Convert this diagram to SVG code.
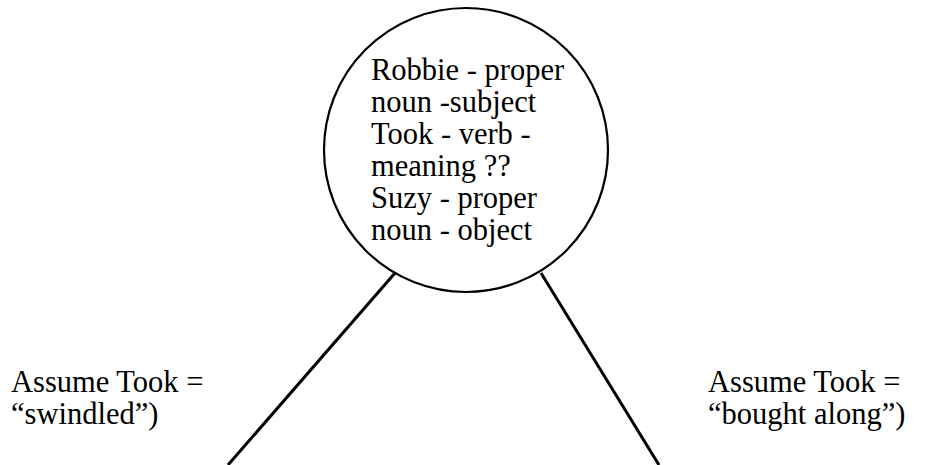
<svg xmlns="http://www.w3.org/2000/svg" width="929" height="465" viewBox="0 0 929 465">
<style>
.t{font-family:"Liberation Serif","Times New Roman",serif;font-size:30.5px;fill:#000}
.ln{stroke:#000;stroke-width:3;fill:none;stroke-linecap:butt}
.nd{stroke:#000;stroke-width:2.2;fill:#fff}
</style>
<rect width="929" height="465" fill="#fff"/>
<g id="connectors">
<line class="ln" x1="395" y1="273" x2="228" y2="465"/>
<line class="ln" x1="541" y1="273" x2="659" y2="465"/>
</g>
<g id="root">
<circle class="nd" cx="466" cy="150" r="142"/>
<text class="t" x="371" y="79.5">Robbie - proper</text>
<text class="t" x="371" y="111.5">noun -subject</text>
<text class="t" x="371" y="143.5">Took - verb -</text>
<text class="t" x="371" y="175.5">meaning ??</text>
<text class="t" x="371" y="207.5">Suzy - proper</text>
<text class="t" x="371" y="239.5">noun - object</text>
</g>
<g id="left-label">
<text class="t" x="11" y="392">Assume Took =</text>
<text class="t" x="11" y="423.5">“swindled”)</text>
</g>
<g id="right-label">
<text class="t" x="708" y="392">Assume Took =</text>
<text class="t" x="708" y="423.5">“bought<tspan x="814">along”)</tspan></text>
</g>
</svg>
